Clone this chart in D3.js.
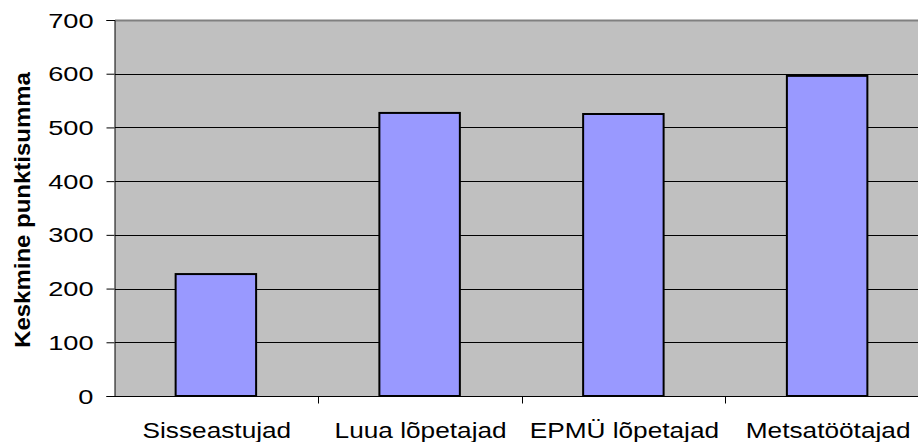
<!DOCTYPE html>
<html><head><meta charset="utf-8">
<script src="https://cdn.jsdelivr.net/npm/d3@7/dist/d3.min.js"></script>
<style>body{margin:0;background:#fff;}svg{display:block;font-family:"Liberation Sans",Arial,sans-serif;}</style>
</head><body>
<svg id="c" width="918" height="442"></svg>
<script>
const categories = ["Sisseastujad", "Luua lõpetajad", "EPMÜ lõpetajad", "Metsatöötajad"];
const values = [227, 527, 525, 596];
const yTicks = [0, 100, 200, 300, 400, 500, 600, 700];
const yTitle = "Keskmine punktisumma";

const svg = d3.select("#c");
const L = 115, R = 929, T = 20, B = 396;
const x = d3.scaleBand().domain(categories).range([114, R]).paddingInner(0.605).paddingOuter(0.3025);
const y = d3.scaleLinear().domain([0, 700]).range([B, T]);

// plot background
svg.append("rect").attr("x", L).attr("y", T).attr("width", 918 - L).attr("height", B - T).attr("fill", "#C0C0C0");

// gridlines
svg.append("g").selectAll("line").data(yTicks.filter(d => d > 0 && d < 700)).join("line")
  .attr("x1", L).attr("x2", 918).attr("y1", d => Math.round(y(d)) + 0.5).attr("y2", d => Math.round(y(d)) + 0.5)
  .attr("stroke", "#000").attr("stroke-width", 1);
// top border
svg.append("line").attr("x1", L).attr("x2", 918).attr("y1", T + 0.5).attr("y2", T + 0.5).attr("stroke", "#808080").attr("stroke-width", 2);

// bars
svg.append("g").selectAll("rect").data(values).join("rect")
  .attr("x", (d, i) => x(categories[i]))
  .attr("y", d => y(d))
  .attr("width", x.bandwidth())
  .attr("height", d => B - y(d))
  .attr("fill", "#9999FF").attr("stroke", "#000").attr("stroke-width", 2);

// y axis
const yAxis = d3.axisLeft(y).tickValues(yTicks).tickSize(8).tickFormat(d3.format("d"));
const gy = svg.append("g").attr("transform", `translate(${L - 0.5},0)`).call(yAxis);
gy.select(".domain").attr("stroke", "#000");
gy.selectAll(".tick line").attr("stroke", "#000");
gy.selectAll(".tick text").attr("font-size", 20).attr("fill", "#000").attr("x", 0).attr("dy", "0.35em")
  .attr("transform", "translate(-21,0) scale(1.36,1)").attr("text-anchor", "end");

// x axis
const xb = d3.scaleLinear().domain([0, 4]).range([114, R]);
const gx = svg.append("g").attr("transform", `translate(0,${B + 0.5})`);
gx.append("line").attr("x1", L - 8).attr("x2", 918).attr("y1", 0).attr("y2", 0).attr("stroke", "#000");
gx.selectAll("line.t").data([1, 2, 3]).join("line").attr("class", "t")
  .attr("x1", d => Math.round(xb(d)) + 0.5).attr("x2", d => Math.round(xb(d)) + 0.5)
  .attr("y1", 0).attr("y2", 7).attr("stroke", "#000");
gx.selectAll("text").data(categories).join("text")
  .attr("transform", d => `translate(${x(d) + x.bandwidth() / 2 + 1},${41}) scale(1.22,1)`)
  .attr("text-anchor", "middle").attr("font-size", 21.5).attr("fill", "#000").text(d => d);

// y title
svg.append("text").attr("transform", `translate(30,${(T + B) / 2 + 2}) rotate(-90) scale(1.09,1)`)
  .attr("text-anchor", "middle").attr("font-size", 22).attr("font-weight", "bold").attr("fill", "#000").text(yTitle);
</script>
</body></html>
